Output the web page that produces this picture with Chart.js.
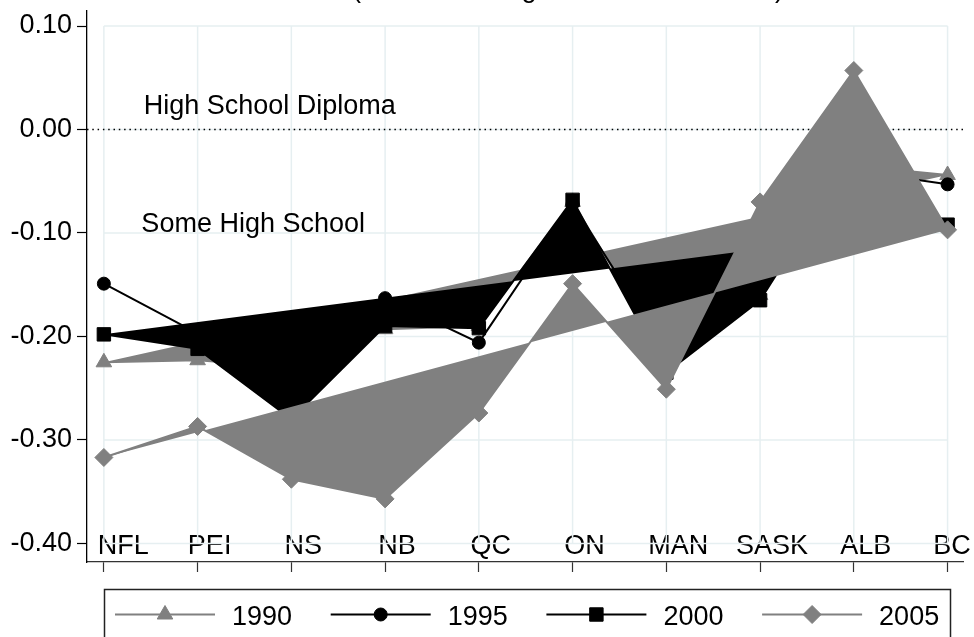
<!DOCTYPE html>
<html>
<head>
<meta charset="utf-8">
<script src="https://cdn.jsdelivr.net/npm/chart.js@4.4.1/dist/chart.umd.min.js"></script>
<style>
html,body{margin:0;padding:0;background:#fff;}
#wrap{width:974px;height:637px;position:relative;}
</style>
</head>
<body>
<div id="wrap"><canvas id="c" width="974" height="637"></canvas></div>
<script>
// ---- data ----
const provinces = ['NFL','PEI','NS','NB','QC','ON','MAN','SASK','ALB','BC'];
const yTicks = [-0.40, -0.30, -0.20, -0.10, 0.00, 0.10];
const seriesNames = ['1990', '1995', '2000', '2005'];
const v1990 = [-0.225, -0.223, -0.230, -0.193, -0.190, -0.070, -0.220, -0.160, -0.035, -0.044];
const v1995 = [-0.149, -0.197, -0.240, -0.163, -0.206, -0.072, -0.215, -0.150, -0.040, -0.053];
const v2000 = [-0.198, -0.212, -0.280, -0.190, -0.192, -0.068, -0.235, -0.165, -0.022, -0.092];
const v2005 = [-0.317, -0.287, -0.338, -0.357, -0.274, -0.149, -0.251, -0.070, 0.057, -0.097];
const titleText = '(Relative to High School Graduates)';

// ---- styles ----
const FONT = '"Liberation Sans", Arial, Helvetica, sans-serif';
const FS = 27;
const GRAY = '#808080';
const BLACK = '#000000';

function makeSet(label, vals, color, style, radius, filled, order) {
  return {
    label: label,
    data: vals.map((v, i) => ({x: i, y: v})),
    borderColor: color,
    backgroundColor: color,
    borderWidth: 2,
    pointStyle: style,
    pointRadius: radius,
    pointHoverRadius: radius,
    pointBackgroundColor: color,
    pointBorderColor: color,
    pointBorderWidth: 1,
    tension: 0,
    fill: filled ? 'shape' : false,
    order: order
  };
}

const datasets = [
  makeSet(seriesNames[0], v1990, GRAY, 'triangle', 9, true, 4),
  makeSet(seriesNames[1], v1995, BLACK, 'circle', 6.5, false, 3),
  makeSet(seriesNames[2], v2000, BLACK, 'rect', 9.5, true, 2),
  makeSet(seriesNames[3], v2005, GRAY, 'rectRot', 9, true, 1)
];

function noPad(s) {
  s.paddingTop = 0; s.paddingBottom = 0; s.paddingLeft = 0; s.paddingRight = 0;
}

// end labels are nudged inwards (as in the original) by padding with spaces
function provinceLabel(v) {
  const name = provinces[v];
  if (name === undefined) return '';
  if (v === 0) return '  ' + name;
  if (v === provinces.length - 1) return name + '  ';
  return name;
}

const decor = {
  id: 'decor',
  beforeDatasetsDraw(chart) {
    const {ctx, scales: {x, y}, chartArea} = chart;
    ctx.save();
    ctx.strokeStyle = '#e6eff1';
    ctx.lineWidth = 1.5;
    const x0 = x.getPixelForValue(0), x1 = x.getPixelForValue(provinces.length - 1);
    const yT = y.getPixelForValue(yTicks[yTicks.length - 1]), yB = y.getPixelForValue(yTicks[0]);
    ctx.beginPath();
    yTicks.forEach(v => { const p = y.getPixelForValue(v); ctx.moveTo(x0, p); ctx.lineTo(x1, p); });
    provinces.forEach((_, i) => { const p = x.getPixelForValue(i); ctx.moveTo(p, yT); ctx.lineTo(p, yB); });
    ctx.stroke();
    ctx.strokeStyle = '#000';
    ctx.lineWidth = 1.4;
    ctx.setLineDash([1.5, 3.8]);
    const z = y.getPixelForValue(0);
    ctx.beginPath();
    ctx.moveTo(chartArea.left, z);
    ctx.lineTo(chartArea.right, z);
    ctx.stroke();
    ctx.setLineDash([]);
    ctx.restore();
  },
  afterDatasetsDraw(chart) {
    const {ctx, scales: {x, y}} = chart;
    ctx.save();
    ctx.fillStyle = '#000';
    ctx.font = FS + 'px ' + FONT;
    ctx.textAlign = 'left';
    ctx.textBaseline = 'alphabetic';
    ctx.fillText('High School Diploma', x.getPixelForValue(0.425), y.getPixelForValue(0.0145));
    ctx.fillText('Some High School', x.getPixelForValue(0.40), y.getPixelForValue(-0.099));
    ctx.restore();
  },
  afterDraw(chart) {
    const {ctx} = chart;
    ctx.save();
    ctx.fillStyle = '#000';
    ctx.font = '27px ' + FONT;
    ctx.textAlign = 'center';
    ctx.textBaseline = 'alphabetic';
    ctx.fillText(titleText, 568, -3.5);
    const boxL = 104.5, boxT = 589.5, boxR = 950.5;
    ctx.strokeStyle = '#222';
    ctx.lineWidth = 1.5;
    ctx.strokeRect(boxL, boxT, boxR - boxL, 80);
    const ly = 614.5;
    chart.data.datasets.forEach((d, i) => {
      const lx = 115 + i * 215.7;
      ctx.strokeStyle = d.borderColor;
      ctx.lineWidth = d.borderWidth;
      ctx.beginPath();
      ctx.moveTo(lx, ly);
      ctx.lineTo(lx + 100, ly);
      ctx.stroke();
      ctx.fillStyle = d.pointBackgroundColor;
      ctx.strokeStyle = d.pointBorderColor;
      ctx.lineWidth = d.pointBorderWidth;
      Chart.helpers.drawPoint(ctx, {pointStyle: d.pointStyle, radius: d.pointRadius, borderWidth: d.pointBorderWidth, rotation: 0}, lx + 50, ly);
      ctx.fillStyle = '#000';
      ctx.font = FS + 'px ' + FONT;
      ctx.textAlign = 'left';
      ctx.textBaseline = 'alphabetic';
      ctx.fillText(d.label, lx + 117, 625);
    });
    ctx.restore();
  }
};

new Chart(document.getElementById('c'), {
  type: 'line',
  data: {datasets: datasets},
  plugins: [decor],
  options: {
    responsive: false,
    animation: false,
    devicePixelRatio: 1,
    layout: {padding: {top: 7, right: 7, left: 0, bottom: 0}},
    plugins: {legend: {display: false}, tooltip: {enabled: false}, title: {display: false}},
    scales: {
      x: {
        type: 'linear',
        min: -0.18,
        max: 9.17,
        afterBuildTicks: s => { s.ticks = provinces.map((_, i) => ({value: i})); },
        afterFit: s => { s.height = 75; noPad(s); },
        grid: {drawOnChartArea: false, drawTicks: true, tickLength: 10, tickColor: '#333', tickWidth: 1.2},
        border: {display: true, color: '#333', width: 1.3},
        ticks: {
          mirror: true, padding: -1, labelOffset: 12, autoSkip: false, maxRotation: 0, minRotation: 0,
          color: '#000', font: {family: FONT, size: FS},
          callback: provinceLabel
        }
      },
      y: {
        type: 'linear',
        min: -0.418,
        max: 0.115,
        afterBuildTicks: s => { s.ticks = yTicks.map(v => ({value: v})); },
        afterFit: s => { s.width = 87; noPad(s); },
        grid: {drawOnChartArea: false, drawTicks: true, tickLength: 10, tickColor: '#000', tickWidth: 1.2},
        border: {display: true, color: '#000', width: 1.3},
        ticks: {padding: 5, color: '#000', font: {family: FONT, size: FS}, callback: v => Number(v).toFixed(2)}
      }
    }
  }
});
</script>
</body>
</html>
